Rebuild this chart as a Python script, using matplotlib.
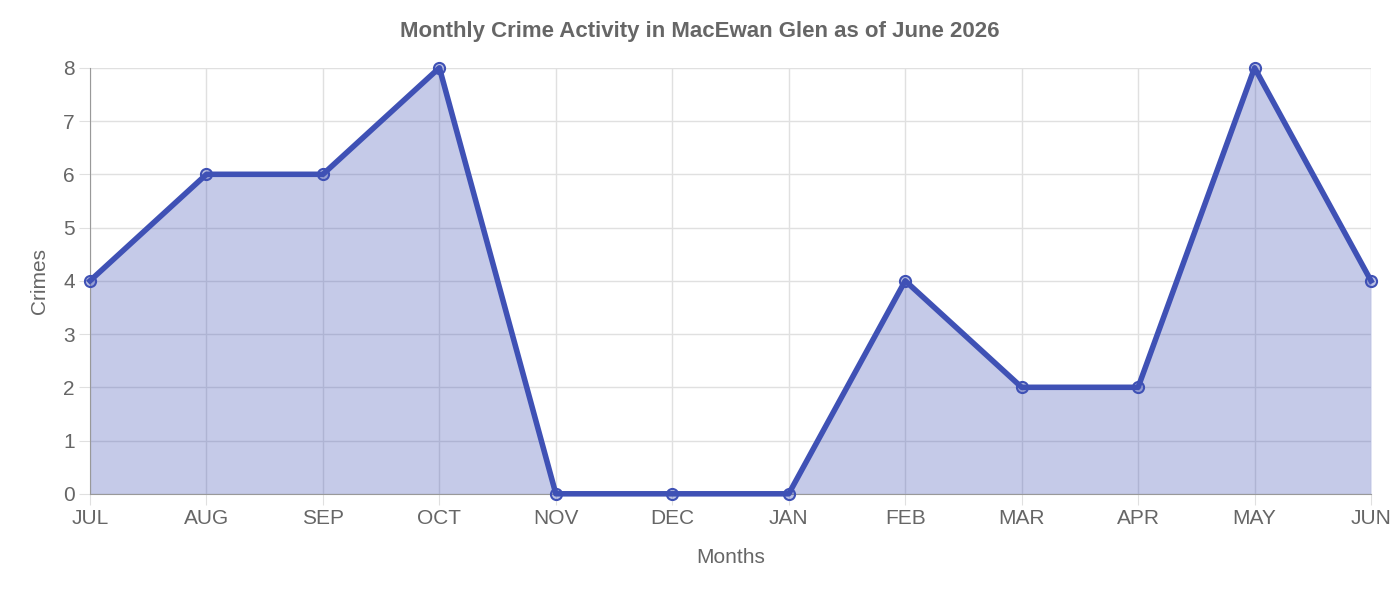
import matplotlib.pyplot as plt

months = ["JUL", "AUG", "SEP", "OCT", "NOV", "DEC", "JAN", "FEB", "MAR", "APR", "MAY", "JUN"]
crimes = [4, 6, 6, 8, 0, 0, 0, 4, 2, 2, 8, 4]

plt.rcParams['font.family'] = ['Liberation Sans', 'DejaVu Sans']
line_color = "#3f51b5"
text_color = "#666666"
grid_color = "#e0e0e0"

fig = plt.figure(figsize=(14, 6), dpi=100)
ax = fig.add_axes([0.0643, 0.177, 0.9150, 0.710])

x = list(range(len(months)))
ax.fill_between(x, crimes, 0, color=line_color, alpha=0.3, linewidth=0)
ax.plot(x, crimes, color=line_color, linewidth=4, marker="o", markersize=8,
        markerfacecolor=(63/255, 81/255, 181/255, 0.35), markeredgecolor=line_color,
        markeredgewidth=1.5, clip_on=False, zorder=3)

ax.set_xlim(0, len(months) - 1)
ax.set_ylim(0, 8)
ax.set_xticks(x)
ax.set_xticklabels(months)
ax.set_yticks(range(0, 9))

ax.tick_params(axis="both", color=grid_color, labelcolor=text_color,
               labelsize=15, length=8, pad=3)
ax.grid(True, color=grid_color, linewidth=1)
ax.set_axisbelow(True)
for side in ["top", "right"]:
    ax.spines[side].set_visible(False)
for side in ["left", "bottom"]:
    ax.spines[side].set_color("#999999")

ax.set_xlabel("Months", color=text_color, fontsize=15, labelpad=14)
ax.set_ylabel("Crimes", color=text_color, fontsize=15, labelpad=10)
fig.suptitle("Monthly Crime Activity in MacEwan Glen as of June 2026",
             color=text_color, fontsize=16, fontweight="bold", y=0.965)

fig.savefig("out.png", dpi=100)
